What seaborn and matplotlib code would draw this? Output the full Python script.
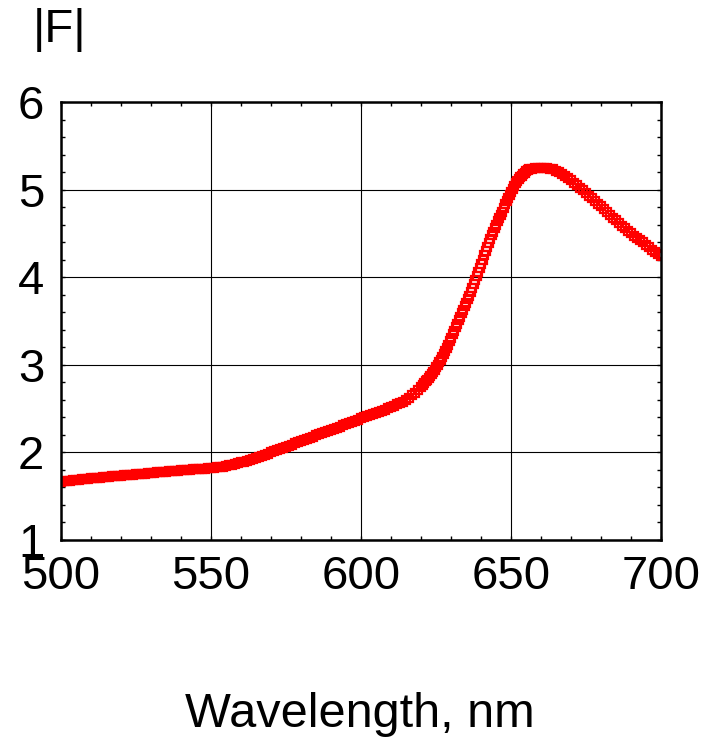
import numpy as np
import pandas as pd
import matplotlib
matplotlib.use("Agg")
import matplotlib.pyplot as plt
from matplotlib.ticker import MultipleLocator
import seaborn as sns

sns.set_theme(style="white")
plt.rcParams["font.family"] = ["Liberation Sans", "DejaVu Sans"]
plt.rcParams["text.color"] = "black"

# Wavelength grid segments (nm)
wl_a = np.arange(500, 620, 1.0)
wl_b = np.arange(620, 656, 0.5)
wl_c = np.arange(656, 701, 1.0)

# |F|
F_a = [
    1.665, 1.669, 1.673, 1.677, 1.681, 1.685, 1.688, 1.692, 1.696, 1.699,
    1.703, 1.706, 1.710, 1.713, 1.716, 1.720, 1.723, 1.726, 1.729, 1.732,
    1.735, 1.738, 1.741, 1.744, 1.747, 1.750, 1.753, 1.756, 1.759, 1.762,
    1.765, 1.768, 1.771, 1.774, 1.777, 1.780, 1.783, 1.786, 1.789, 1.792,
    1.795, 1.798, 1.800, 1.803, 1.806, 1.808, 1.811, 1.813, 1.815, 1.818,
    1.820, 1.824, 1.828, 1.833, 1.839, 1.845, 1.852, 1.860, 1.868, 1.877,
    1.886, 1.895, 1.905, 1.915, 1.926, 1.937, 1.949, 1.961, 1.973, 1.986,
    1.999, 2.012, 2.025, 2.038, 2.051, 2.064, 2.077, 2.090, 2.103, 2.116,
    2.129, 2.142, 2.155, 2.168, 2.181, 2.194, 2.207, 2.220, 2.232, 2.244,
    2.256, 2.269, 2.282, 2.295, 2.308, 2.321, 2.334, 2.347, 2.360, 2.374,
    2.388, 2.400, 2.411, 2.424, 2.437, 2.449, 2.461, 2.474, 2.488, 2.502,
    2.517, 2.532, 2.548, 2.564, 2.581, 2.600, 2.624, 2.650, 2.680, 2.714,
]
F_b = [
    2.750, 2.770, 2.790, 2.810, 2.830, 2.850, 2.870, 2.895, 2.920, 2.945,
    2.970, 3.000, 3.030, 3.060, 3.090, 3.125, 3.160, 3.195, 3.230, 3.270,
    3.310, 3.350, 3.390, 3.430, 3.470, 3.510, 3.550, 3.590, 3.630, 3.670,
    3.710, 3.750, 3.790, 3.830, 3.875, 3.920, 3.965, 4.010, 4.055, 4.100,
    4.150, 4.200, 4.250, 4.300, 4.350, 4.395, 4.440, 4.480, 4.520, 4.560,
    4.600, 4.640, 4.680, 4.715, 4.750, 4.790, 4.830, 4.865, 4.900, 4.935,
    4.970, 5.005, 5.040, 5.070, 5.100, 5.120, 5.140, 5.160, 5.180, 5.195,
    5.210, 5.220,
]
F_c = [
    5.230, 5.240, 5.250, 5.250, 5.250, 5.248, 5.245, 5.238, 5.230, 5.215,
    5.200, 5.180, 5.160, 5.135, 5.110, 5.080, 5.050, 5.020, 4.990, 4.960,
    4.930, 4.900, 4.870, 4.840, 4.810, 4.780, 4.750, 4.715, 4.680, 4.650,
    4.620, 4.590, 4.560, 4.530, 4.500, 4.475, 4.450, 4.425, 4.400, 4.370,
    4.340, 4.315, 4.290, 4.265, 4.240,
]

x_ticks = [500, 550, 600, 650, 700]
y_ticks = [1, 2, 3, 4, 5, 6]

df = pd.DataFrame({
    "wl": np.concatenate([wl_a, wl_b, wl_c]),
    "F": np.concatenate([F_a, F_b, F_c]),
})

fig = plt.figure(figsize=(7.15, 7.52), dpi=100)
ax = fig.add_axes([61 / 715, 1 - 540 / 752, 600 / 715, 438 / 752])

sns.lineplot(data=df, x="wl", y="F", ax=ax, linestyle="", marker="s",
             markersize=5.5, markerfacecolor="none", markeredgecolor="#ff0000",
             markeredgewidth=1.6, color="#ff0000", sort=False)

ax.set_xlim(500, 700)
ax.set_ylim(1, 6)
ax.set_xticks(x_ticks)
ax.set_yticks(y_ticks)
ax.set_xticklabels([str(v) for v in x_ticks])
ax.set_yticklabels([str(v) for v in y_ticks])
ax.xaxis.set_minor_locator(MultipleLocator(10))
ax.yaxis.set_minor_locator(MultipleLocator(0.2))
ax.grid(True, which="major", color="black", linewidth=0.8)
ax.set_axisbelow(True)

ax.tick_params(which="both", direction="in", top=True, right=True,
               bottom=True, left=True, color="black")
ax.tick_params(which="major", length=3, width=1, labelsize=34, pad=11,
               labelcolor="black")
ax.tick_params(which="minor", length=3, width=1)
ax.tick_params(axis="y", which="major", pad=12)

for side in ["left", "bottom", "right", "top"]:
    ax.spines[side].set_visible(True)
    ax.spines[side].set_color("black")
    ax.spines[side].set_linewidth(1.8)

ax.set_xlabel("")
ax.set_ylabel("")

fig.text(60 / 715, 1 - 8 / 752, "|F|", fontsize=34, ha="center", va="top",
         color="black")
fig.text(360 / 715, 1 - 727 / 752, "Wavelength, nm", fontsize=35,
         ha="center", va="baseline", color="black")

fig.savefig("out.png", dpi=100)
